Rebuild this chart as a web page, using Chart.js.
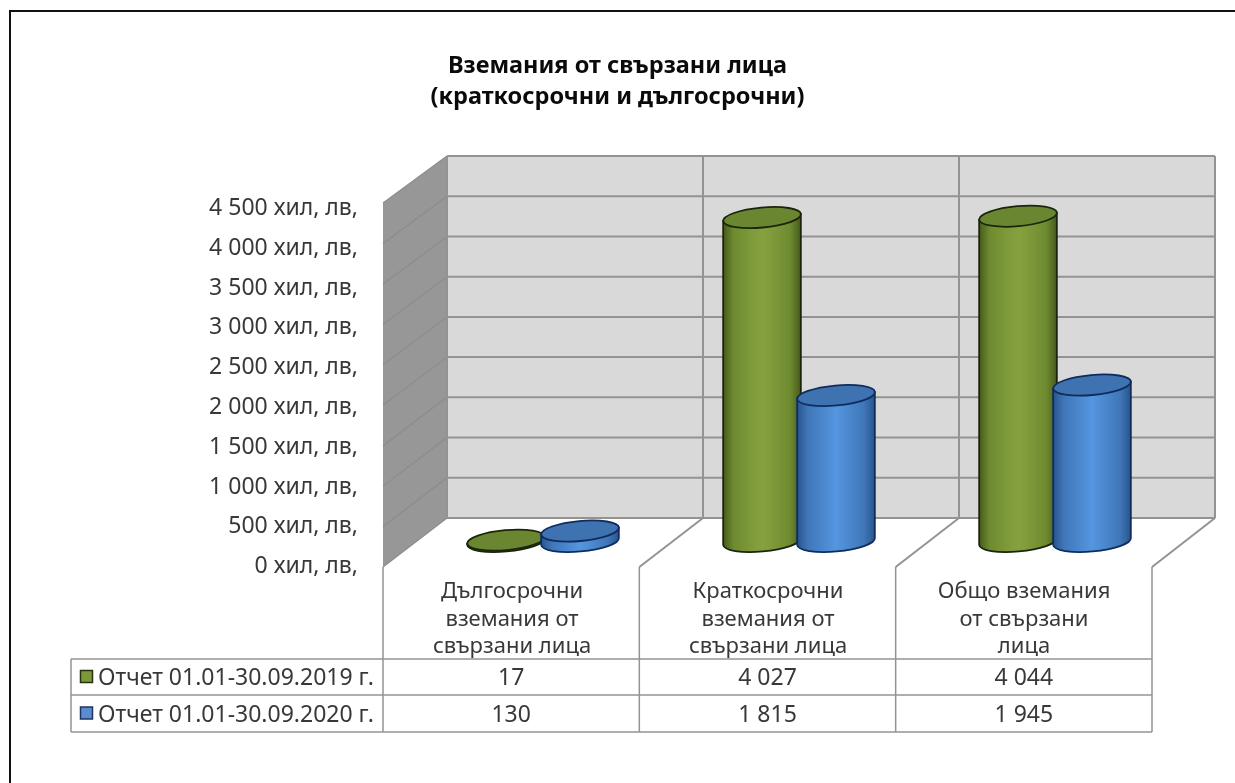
<!DOCTYPE html>
<html><head><meta charset="utf-8">
<style>html,body{margin:0;padding:0;background:#fff}canvas{display:block}</style>
<script src="https://cdn.jsdelivr.net/npm/chart.js@4"></script>
</head><body><canvas id="c" width="1235" height="783"></canvas>
<script>
const categories=[["Дългосрочни","вземания от","свързани лица"],["Краткосрочни","вземания от","свързани лица"],["Общо вземания","от свързани","лица"]];
const series2019Label="Отчет 01.01-30.09.2019 г.";
const series2020Label="Отчет 01.01-30.09.2020 г.";
const series2019=[17,4027,4044];
const series2020=[130,1815,1945];
const titleLines=["Вземания от свързани лица","(краткосрочни и дългосрочни)"];
const axisMax=4500, axisStep=500;

const FONT='"Noto Sans"';
const TXT='#383838';
const fmt=v=>String(v).replace(/\B(?=(\d{3})+$)/g,' ');
const W={dx:64,backTop:156,backBot:518};
const palette=[
 {edge:'#465a1c',soft:'#6f8b30',mid:'#86a23f',top:'#6b8630',line:'#1a260b',key:'#7f973b',keyLine:'#26330f'},
 {edge:'#27558d',soft:'#3f76b8',mid:'#5596e0',top:'#3f72b0',line:'#102c5c',key:'#5c8bd0',keyLine:'#1c3560'}
];

function cylinders(chart,index,meta){
  const {ctx,scales:{y}}=chart;
  const p=palette[index];
  const y0=y.getPixelForValue(0), k=362/(y0-y.getPixelForValue(axisMax));
  meta.data.forEach(el=>{
    const rx=el.width/2, ry=10, rot=-5.2*Math.PI/180;
    const cx=el.x+31, by=y0-25, ty=by-(y0-el.y)*k;
    const ox=rx*Math.cos(rot), oy=rx*Math.sin(rot);
    const g=ctx.createLinearGradient(cx-rx,0,cx+rx,0);
    g.addColorStop(0,p.edge);g.addColorStop(.14,p.soft);g.addColorStop(.5,p.mid);g.addColorStop(.86,p.soft);g.addColorStop(1,p.edge);
    ctx.save();
    ctx.lineWidth=1.8;ctx.strokeStyle=p.line;
    ctx.beginPath();
    ctx.moveTo(cx+ox,ty+oy);ctx.lineTo(cx+ox,by+oy);
    ctx.ellipse(cx,by,rx,ry,rot,0,Math.PI);
    ctx.lineTo(cx-ox,ty-oy);ctx.closePath();
    ctx.fillStyle=g;ctx.fill();ctx.stroke();
    ctx.beginPath();ctx.ellipse(cx,ty,rx,ry,rot,0,Math.PI*2);
    ctx.fillStyle=p.top;ctx.fill();ctx.stroke();
    ctx.restore();
  });
}

const scene={
 id:'scene',
 beforeDatasetsDraw(chart){
  const {ctx,chartArea:a,scales:{y}}=chart;
  const fl=a.left-1, fr=a.right, ft=y.getPixelForValue(axisMax)-5.5, fb=y.getPixelForValue(0)+.5;
  const bl=fl+W.dx, br=fr+63, bt=W.backTop, bb=W.backBot;
  ctx.save();
  ctx.fillStyle='#d9d9d9';ctx.fillRect(bl,bt,br-bl,bb-bt);
  ctx.fillStyle='#979797';
  ctx.beginPath();ctx.moveTo(fl,fb);ctx.lineTo(bl,bb);ctx.lineTo(bl,bt);ctx.lineTo(fl,ft);ctx.closePath();ctx.fill();
  for(let v=0;v<=axisMax;v+=axisStep){
    const t=v/axisMax, yb=bb+(bt-bb)*t, yf=fb+(ft-fb)*t;
    ctx.strokeStyle='#8c8c8c';ctx.lineWidth=1.2;
    ctx.beginPath();ctx.moveTo(fl,yf);ctx.lineTo(bl,yb);ctx.stroke();
    ctx.strokeStyle='#939393';ctx.lineWidth=2;
    ctx.beginPath();ctx.moveTo(bl,yb);ctx.lineTo(br,yb);ctx.stroke();
  }
  const n=categories.length, step=(fr-fl)/n;
  ctx.strokeStyle='#939393';
  for(let i=0;i<=n;i++){
    const xb=bl+(br-bl)*i/n, xf=fl+step*i;
    ctx.lineWidth=2;
    ctx.beginPath();ctx.moveTo(xb,bt);ctx.lineTo(xb,bb);ctx.stroke();
    if(i>0){ctx.beginPath();ctx.moveTo(xb,bb);ctx.lineTo(xf,fb);ctx.stroke();}
    ctx.lineWidth=1.5;
    ctx.beginPath();ctx.moveTo(xf,fb);ctx.lineTo(xf,732);ctx.stroke();
  }
  ctx.restore();
 },
 beforeDatasetDraw(){return false;},
 afterDatasetsDraw(chart){
  chart.data.datasets.forEach((ds,i)=>cylinders(chart,i,chart.getDatasetMeta(i)));
 },
 afterDraw(chart){
  const {ctx,chartArea:a}=chart;
  const fl=a.left-1, fr=a.right, left=71, rows=[659,695,732];
  ctx.save();
  ctx.strokeStyle='#939393';ctx.lineWidth=1.5;
  rows.forEach(r=>{ctx.beginPath();ctx.moveTo(left,r);ctx.lineTo(fr,r);ctx.stroke();});
  ctx.beginPath();ctx.moveTo(left,rows[0]);ctx.lineTo(left,rows[2]);ctx.stroke();
  ctx.font='23px '+FONT;ctx.textBaseline='middle';
  chart.data.datasets.forEach((ds,i)=>{
    const cy=(rows[i]+rows[i+1])/2;
    const p=palette[i];
    ctx.fillStyle=p.key;ctx.strokeStyle=p.keyLine;ctx.lineWidth=1.5;
    ctx.fillRect(80.5,cy-6.5,12,12);ctx.strokeRect(80.5,cy-6.5,12,12);
    ctx.fillStyle=TXT;ctx.textAlign='left';ctx.fillText(ds.label,98,cy+1.5);
    ctx.textAlign='center';
    ds.data.forEach((v,j)=>ctx.fillText(fmt(v),fl+(fr-fl)*(j+.5)/categories.length,cy+1.5));
  });
  ctx.strokeStyle='#111';ctx.lineWidth=2;
  ctx.beginPath();ctx.moveTo(10,783);ctx.lineTo(10,11);ctx.lineTo(1235,11);ctx.stroke();
  ctx.restore();
 }
};

new Chart(document.getElementById('c'),{
 type:'bar',
 data:{labels:categories,datasets:[
  {label:series2019Label,data:series2019,backgroundColor:palette[0].key,categoryPercentage:.578,barPercentage:1.054},
  {label:series2020Label,data:series2020,backgroundColor:palette[1].key,categoryPercentage:.578,barPercentage:1.054}
 ]},
 plugins:[scene],
 options:{
  responsive:false,animation:false,
  layout:{padding:{left:83,right:83,top:0,bottom:0}},
  plugins:{
   legend:{display:false},tooltip:{enabled:false},
   title:{display:true,text:titleLines,color:'#0a0a0a',font:{family:FONT,size:23.5,weight:'bold',lineHeight:1.32},padding:{top:50.5,bottom:96}}
  },
  scales:{
   x:{grid:{display:false},border:{display:false},
      afterFit(s){s.height=216.5;},
      ticks:{color:TXT,maxRotation:0,minRotation:0,autoSkip:false,padding:3.5,font:{family:FONT,size:22,lineHeight:1.25}}},
   y:{min:0,max:axisMax,grid:{display:false,drawTicks:false},border:{display:false},
      afterFit(s){s.width=301;},
      ticks:{stepSize:axisStep,color:TXT,padding:26,font:{family:FONT,size:23},callback:v=>fmt(v)+' хил, лв,'}}
  }
 }
});
</script></body></html>
